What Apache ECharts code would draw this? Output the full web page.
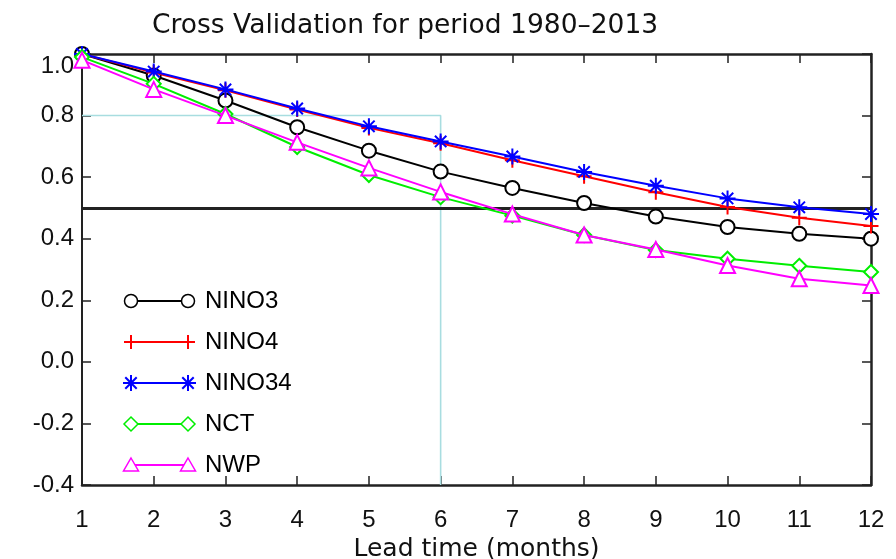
<!DOCTYPE html>
<html>
<head>
<meta charset="utf-8">
<title>Cross Validation for period 1980–2013</title>
<script src="https://cdn.jsdelivr.net/npm/echarts@6/dist/echarts.min.js"></script>
<style>
  html, body { margin: 0; padding: 0; background: #fff; }
  #chart { width: 896px; height: 559px; }
</style>
</head>
<body>
<div id="chart"></div>
<script>
// Lead times (months) and correlation skill for each index
const leadMonths = [1, 2, 3, 4, 5, 6, 7, 8, 9, 10, 11, 12];
const nino3  = [1.00, 0.930, 0.849, 0.762, 0.686, 0.618, 0.565, 0.516, 0.472, 0.438, 0.416, 0.400];
const nino4  = [1.00, 0.940, 0.882, 0.820, 0.760, 0.710, 0.655, 0.603, 0.551, 0.503, 0.468, 0.441];
const nino34 = [1.00, 0.943, 0.885, 0.823, 0.765, 0.716, 0.667, 0.617, 0.572, 0.531, 0.502, 0.480];
const nct    = [0.99, 0.903, 0.805, 0.698, 0.607, 0.535, 0.475, 0.412, 0.363, 0.335, 0.312, 0.292];
const nwp    = [0.98, 0.885, 0.800, 0.713, 0.630, 0.552, 0.480, 0.412, 0.365, 0.313, 0.270, 0.248];

const seriesNames = ['NINO3', 'NINO4', 'NINO34', 'NCT', 'NWP'];
const seriesData = [nino3, nino4, nino34, nct, nwp];

// y tick values shown on the left axis
const yTicks = [-0.4, -0.2, 0.0, 0.2, 0.4, 0.6, 0.8, 1.0];

// threshold line and the 6-month / 0.8 guide
const threshold = 0.5;
const guideX = [1, 6, 6];
const guideY = [0.8, 0.8, -0.4];

const colors = ['#000000', '#ff0000', '#0000ff', '#00ee00', '#ff00ff'];
const symbols = [
  'emptyCircle',
  'path://M0,-7L0,7M-7,0L7,0',
  'path://M0,-8L0,8M-8,0L8,0M-5.7,-5.7L5.7,5.7M-5.7,5.7L5.7,-5.7',
  'emptyDiamond',
  'emptyTriangle'
];
const symbolSizes = [14, 15, 16, 14, 15];

const FONT = '"Liberation Sans", Arial, sans-serif';
const WIDE_FONT = '"DejaVu Sans", "Liberation Sans", sans-serif';
const AXIS_COLOR = '#222';

const chart = echarts.init(document.getElementById('chart'));

const dataSeries = seriesNames.map((name, i) => ({
  name: name,
  type: 'line',
  data: leadMonths.map((m, k) => [m, seriesData[i][k]]),
  symbol: symbols[i],
  symbolSize: symbolSizes[i],
  symbolKeepAspect: true,
  showAllSymbol: true,
  clip: false,
  z: 10 + i,
  lineStyle: { color: colors[i], width: 2 },
  itemStyle: {
    color: colors[i],
    borderColor: colors[i],
    borderWidth: (i === 1 || i === 2) ? 2 : 1.5
  },
  emphasis: { disabled: true }
}));

// Legend drawn as line samples with a marker at each end
const legendX0 = 131, legendX1 = 188, legendTextX = 205, legendY0 = 301, legendGap = 41;

function markerGraphics(i, x, y) {
  const c = colors[i];
  const out = [];
  const stroke = (x1, y1, x2, y2) =>
    out.push({ type: 'line', shape: { x1: x1, y1: y1, x2: x2, y2: y2 }, style: { stroke: c, lineWidth: 2 }, z: 101 });
  if (i === 0) {
    out.push({ type: 'circle', shape: { cx: x, cy: y, r: 6.5 }, style: { fill: '#fff', stroke: c, lineWidth: 1.5 }, z: 101 });
  } else if (i === 1) {
    stroke(x, y - 7, x, y + 7);
    stroke(x - 7, y, x + 7, y);
  } else if (i === 2) {
    stroke(x, y - 8, x, y + 8);
    stroke(x - 8, y, x + 8, y);
    stroke(x - 5.7, y - 5.7, x + 5.7, y + 5.7);
    stroke(x - 5.7, y + 5.7, x + 5.7, y - 5.7);
  } else if (i === 3) {
    out.push({ type: 'polygon', shape: { points: [[x, y - 7], [x + 7, y], [x, y + 7], [x - 7, y]] }, style: { fill: '#fff', stroke: c, lineWidth: 1.5 }, z: 101 });
  } else {
    out.push({ type: 'polygon', shape: { points: [[x, y - 7], [x + 7.5, y + 6], [x - 7.5, y + 6]] }, style: { fill: '#fff', stroke: c, lineWidth: 1.5 }, z: 101 });
  }
  return out;
}

const legendGraphics = [];
seriesNames.forEach((name, i) => {
  const y = legendY0 + i * legendGap;
  legendGraphics.push({ type: 'line', shape: { x1: legendX0, y1: y, x2: legendX1, y2: y }, style: { stroke: colors[i], lineWidth: 2 }, z: 100 });
  [legendX0, legendX1].forEach(x => {
    markerGraphics(i, x, y).forEach(g => legendGraphics.push(g));
  });
  legendGraphics.push({
    type: 'text', x: legendTextX, y: y,
    style: { text: name, fill: '#000', font: '24px ' + FONT, verticalAlign: 'middle' },
    z: 101
  });
});

const option = {
  backgroundColor: '#fff',
  animation: false,
  title: {
    text: 'Cross Validation for period 1980–2013',
    left: 147,
    top: 8,
    textStyle: { fontFamily: WIDE_FONT, fontSize: 26.5, fontWeight: 'normal', color: '#111' }
  },
  grid: { left: 82, right: 25, top: 54, bottom: 74, containLabel: false, outerBoundsMode: 'none' },
  xAxis: [
    {
      type: 'value', min: 1, max: 12, interval: 1, position: 'bottom',
      name: 'Lead time (months)', nameLocation: 'middle', nameGap: 47,
      nameTextStyle: { fontFamily: WIDE_FONT, fontSize: 25, color: '#111' },
      axisLine: { onZero: false, lineStyle: { color: AXIS_COLOR, width: 2.5 } },
      axisTick: { inside: true, length: 9, lineStyle: { color: AXIS_COLOR, width: 1.5 } },
      axisLabel: { margin: 23, fontFamily: FONT, fontSize: 24, color: '#111' },
      splitLine: { show: false }
    },
    {
      type: 'value', min: 1, max: 12, interval: 1, position: 'top',
      axisLine: { onZero: false, lineStyle: { color: AXIS_COLOR, width: 2.5 } },
      axisTick: { inside: true, length: 9, lineStyle: { color: AXIS_COLOR, width: 1.5 } },
      axisLabel: { show: false },
      splitLine: { show: false }
    }
  ],
  yAxis: [
    {
      type: 'value', min: yTicks[0], max: yTicks[yTicks.length - 1], interval: 0.2, position: 'left',
      axisLine: { onZero: false, lineStyle: { color: AXIS_COLOR, width: 2 } },
      axisTick: { inside: true, length: 9, lineStyle: { color: AXIS_COLOR, width: 1.5 } },
      axisLabel: {
        margin: 8, fontFamily: FONT, fontSize: 24, color: '#111',
        formatter: v => v.toFixed(1),
        verticalAlignMaxLabel: 'top'
      },
      splitLine: { show: false }
    },
    {
      type: 'value', min: yTicks[0], max: yTicks[yTicks.length - 1], interval: 0.2, position: 'right',
      axisLine: { onZero: false, lineStyle: { color: AXIS_COLOR, width: 2.5 } },
      axisTick: { inside: true, length: 9, lineStyle: { color: AXIS_COLOR, width: 1.5 } },
      axisLabel: { show: false },
      splitLine: { show: false }
    }
  ],
  series: [
    {
      name: 'guide',
      type: 'line',
      data: guideX.map((x, k) => [x, guideY[k]]),
      symbol: 'none',
      z: 2,
      lineStyle: { color: '#a8dde0', width: 1.6 },
      emphasis: { disabled: true },
      markLine: {
        silent: true,
        symbol: 'none',
        label: { show: false },
        lineStyle: { color: '#222', width: 3, type: 'solid' },
        data: [{ yAxis: threshold }]
      }
    }
  ].concat(dataSeries),
  graphic: legendGraphics
};

chart.setOption(option);
</script>
</body>
</html>
